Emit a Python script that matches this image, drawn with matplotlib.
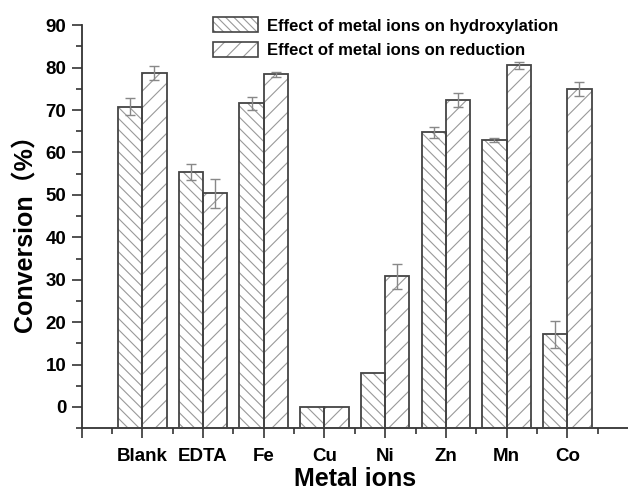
import matplotlib
matplotlib.use("Agg")
import matplotlib.pyplot as plt
import numpy as np
from matplotlib.patches import Patch

categories = ["Blank", "EDTA", "Fe", "Cu", "Ni", "Zn", "Mn", "Co"]
hydroxylation = [70.8, 55.4, 71.6, 0.0, 8.0, 64.8, 62.9, 17.1]
hydroxylation_err = [2.0, 2.0, 1.5, 0.0, 0.0, 1.3, 0.4, 3.1]
reduction = [78.7, 50.4, 78.4, 0.0, 30.8, 72.4, 80.6, 74.9]
reduction_err = [1.7, 3.4, 0.6, 0.0, 3.0, 1.6, 0.8, 1.7]
labels = ["Effect of metal ions on hydroxylation", "Effect of metal ions on reduction"]

plt.rcParams['font.family'] = ['Liberation Sans', 'Noto Sans CJK SC']
plt.rcParams['font.weight'] = 'bold'
plt.rcParams['hatch.linewidth'] = 0.8

fig = plt.figure(figsize=(6.28, 4.95), dpi=100)
ax = fig.add_axes([0.130, 0.135, 0.87, 0.814])

x = np.arange(1, len(categories) + 1)
w = 0.4
base = -5
edge = "#444444"
hcol = "#999999"

for vals, off, hatch in [(hydroxylation, -w / 2, '\\\\\\'), (reduction, w / 2, '//')]:
    heights = np.array(vals) - base
    ax.bar(x + off, heights, w, bottom=base, color='white', edgecolor=hcol,
           hatch=hatch, linewidth=0, zorder=2)
    ax.bar(x + off, heights, w, bottom=base, fill=False, edgecolor=edge,
           linewidth=1.3, zorder=3)

for vals, errs, off in [(hydroxylation, hydroxylation_err, -w / 2), (reduction, reduction_err, w / 2)]:
    v = np.array(vals)
    e = np.array(errs)
    m = e > 0
    ax.errorbar((x + off)[m], v[m], yerr=e[m], fmt='none', ecolor='#888888',
                elinewidth=1.0, capsize=3.5, capthick=1.0, zorder=4)

ax.set_xlim(0, 9)
ax.set_ylim(-5, 90)
ax.set_xticks(np.arange(0, 9))
ax.set_xticklabels([""] + categories)
ax.set_xticks(np.arange(0.5, 9, 1), minor=True)
ax.set_yticks(np.arange(0, 91, 10))
ax.set_yticks(np.arange(-5, 91, 5), minor=True)

for s in ['top', 'right']:
    ax.spines[s].set_visible(False)
for s in ['left', 'bottom']:
    ax.spines[s].set_linewidth(1.3)
    ax.spines[s].set_color('#333333')

ax.tick_params(axis='both', which='major', length=7, width=1.2, color='#333333',
               labelsize=13.5, pad=4)
ax.tick_params(axis='both', which='minor', length=4, width=1.2, color='#333333')
ax.tick_params(axis='x', which='major', pad=7)

ax.set_xlabel("Metal ions", fontsize=18, fontweight='bold', labelpad=2)
ax.set_ylabel("Conversion（%）", fontsize=18, fontweight='bold', labelpad=6)

handles = [Patch(facecolor='white', edgecolor=hcol, hatch='\\\\\\\\', linewidth=0),
           Patch(facecolor='white', edgecolor=hcol, hatch='//', linewidth=0)]
outline = [Patch(fill=False, edgecolor=edge, linewidth=1.2) for _ in range(2)]
leg = fig.legend([(handles[0], outline[0]), (handles[1], outline[1])], labels,
                 loc='upper left', bbox_to_anchor=(0.315, 0.995), frameon=False,
                 prop={'size': 12, 'weight': 'bold'}, handlelength=2.7,
                 handleheight=1.0, handletextpad=0.55, labelspacing=0.5)

fig.savefig("out.png", dpi=100)
